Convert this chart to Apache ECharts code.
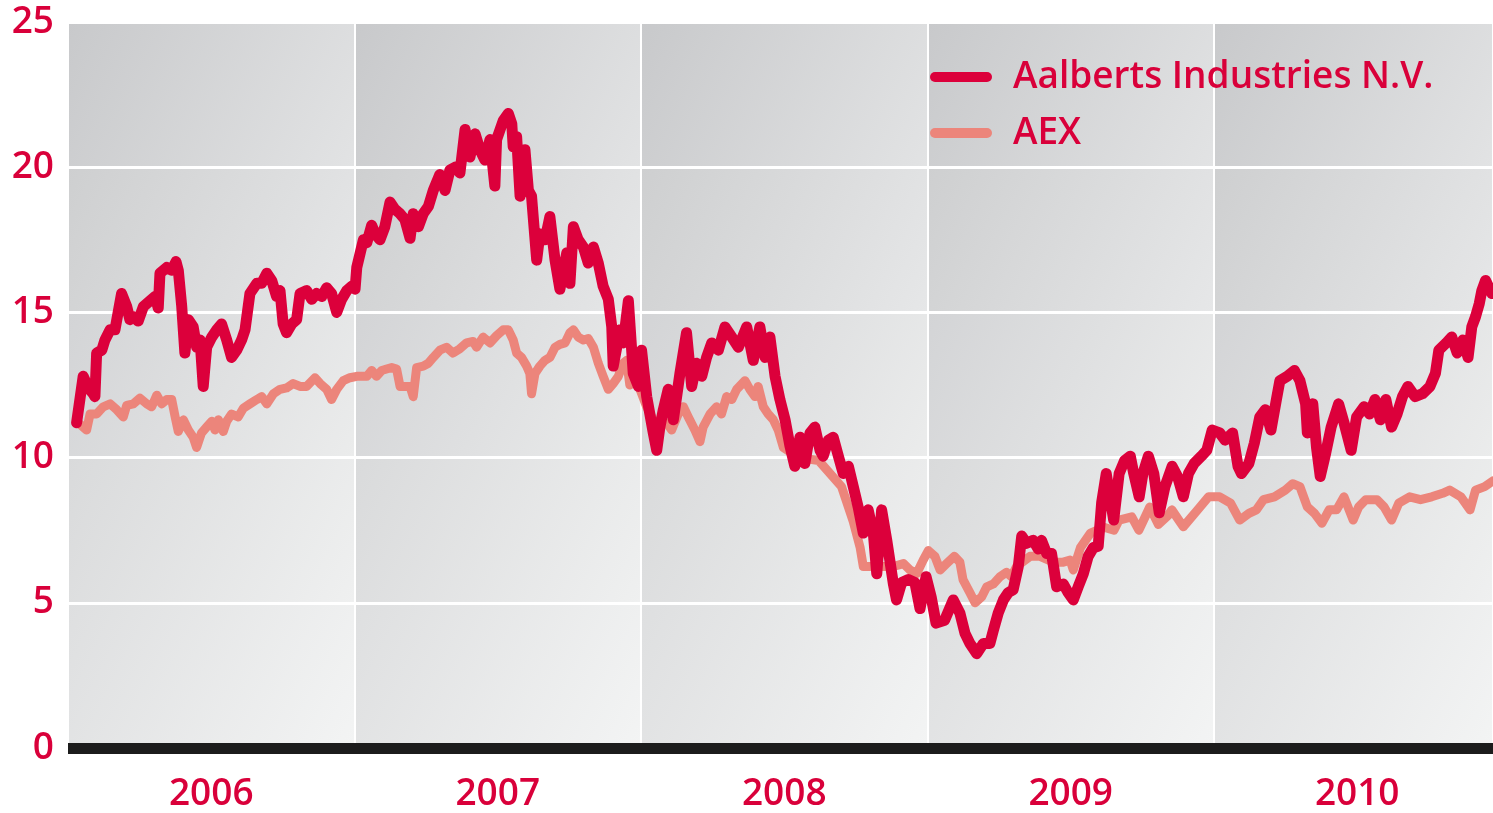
<!DOCTYPE html>
<html>
<head>
<meta charset="utf-8">
<script src="https://cdn.jsdelivr.net/npm/echarts@6/dist/echarts.min.js"></script>
<style>
  html, body { margin: 0; padding: 0; background: #fff; }
  #main { width: 1493px; height: 813px; }
</style>
</head>
<body>
<div id="main"></div>
<script>
// jaren op de x-as, waarden op de y-as
var years = [2006, 2007, 2008, 2009, 2010];
var yTicks = [0, 5, 10, 15, 20, 25];
var xEnd = 2010.974; // grafiek loopt net niet tot eind 2010 in beeld

var names = ['Aalberts Industries N.V.', 'AEX'];

// koers Aalberts (jaar als fractie, waarde)
var aalberts = [
  [2006.030,11.2],[2006.053,12.8],[2006.071,12.4],[2006.088,12.2],[2006.094,12.1],[2006.100,13.6],[2006.118,13.7],
  [2006.129,14.05],[2006.147,14.4],[2006.164,14.4],[2006.187,15.65],[2006.205,15.2],[2006.216,14.75],[2006.228,14.85],
  [2006.245,14.7],[2006.263,15.2],[2006.286,15.4],[2006.304,15.55],[2006.315,15.15],[2006.321,16.35],[2006.345,16.55],
  [2006.362,16.45],[2006.377,16.75],[2006.385,16.45],[2006.397,15.2],[2006.408,13.6],[2006.420,14.75],[2006.437,14.5],
  [2006.449,13.8],[2006.461,14.05],[2006.472,12.45],[2006.484,13.8],[2006.502,14.15],[2006.519,14.4],[2006.536,14.6],
  [2006.554,14.05],[2006.571,13.45],[2006.589,13.7],[2006.606,14.05],[2006.618,14.4],[2006.635,15.65],[2006.659,16.0],
  [2006.676,16.0],[2006.694,16.35],[2006.711,16.1],[2006.728,15.55],[2006.740,15.75],[2006.751,14.6],[2006.763,14.3],
  [2006.781,14.6],[2006.798,14.75],[2006.810,15.65],[2006.833,15.75],[2006.851,15.45],[2006.868,15.65],[2006.886,15.55],
  [2006.903,15.85],[2006.920,15.65],[2006.938,15.0],[2006.955,15.45],[2006.973,15.75],[2006.990,15.9],[2007.002,15.8],
  [2007.008,16.55],[2007.031,17.5],[2007.043,17.4],[2007.060,18.0],[2007.072,17.7],[2007.089,17.5],[2007.106,17.95],
  [2007.124,18.8],[2007.141,18.55],[2007.159,18.4],[2007.176,18.2],[2007.194,17.55],[2007.205,18.4],[2007.223,17.95],
  [2007.240,18.4],[2007.258,18.65],[2007.275,19.2],[2007.298,19.75],[2007.316,19.2],[2007.333,19.9],[2007.351,20.0],
  [2007.368,19.8],[2007.386,21.3],[2007.403,20.35],[2007.421,21.15],[2007.438,20.6],[2007.455,20.25],[2007.473,20.95],
  [2007.490,19.35],[2007.496,20.95],[2007.519,21.6],[2007.537,21.85],[2007.549,21.5],[2007.554,20.7],[2007.566,21.05],
  [2007.578,19.0],[2007.595,20.6],[2007.607,19.2],[2007.618,19.0],[2007.636,16.8],[2007.647,17.7],[2007.665,17.5],
  [2007.682,18.3],[2007.700,16.8],[2007.717,15.8],[2007.741,17.05],[2007.752,16.0],[2007.764,17.95],[2007.781,17.5],
  [2007.799,17.25],[2007.816,16.7],[2007.834,17.25],[2007.851,16.7],[2007.868,15.9],[2007.886,15.45],[2007.898,14.5],
  [2007.903,13.15],[2007.927,14.4],[2007.938,13.95],[2007.956,15.4],[2007.973,12.9],[2007.991,12.45],[2008.002,13.7],
  [2008.020,12.1],[2008.043,10.85],[2008.055,10.25],[2008.066,11.05],[2008.078,11.65],[2008.095,12.35],[2008.113,11.3],
  [2008.136,12.9],[2008.159,14.3],[2008.177,12.45],[2008.194,13.25],[2008.212,12.8],[2008.229,13.45],[2008.247,13.95],
  [2008.270,13.7],[2008.293,14.5],[2008.317,14.15],[2008.340,13.8],[2008.369,14.5],[2008.392,13.35],[2008.415,14.5],
  [2008.433,13.45],[2008.450,14.15],[2008.468,12.8],[2008.485,12.0],[2008.503,11.3],[2008.520,10.4],[2008.537,9.7],
  [2008.555,10.7],[2008.572,9.8],[2008.590,10.85],[2008.607,11.05],[2008.625,10.25],[2008.636,10.05],[2008.654,10.6],
  [2008.671,10.7],[2008.689,10.05],[2008.706,9.45],[2008.724,9.7],[2008.741,9.0],[2008.758,8.3],[2008.776,7.4],
  [2008.793,8.2],[2008.811,7.4],[2008.823,6.0],[2008.840,8.2],[2008.858,7.15],[2008.881,5.65],[2008.892,5.1],
  [2008.910,5.7],[2008.933,5.8],[2008.956,5.7],[2008.974,4.8],[2008.995,5.9],[2009.013,5.2],[2009.030,4.3],
  [2009.060,4.4],[2009.090,5.1],[2009.113,4.65],[2009.131,3.95],[2009.148,3.6],[2009.172,3.25],[2009.195,3.6],
  [2009.218,3.6],[2009.230,4.05],[2009.247,4.65],[2009.265,5.1],[2009.282,5.35],[2009.299,5.45],[2009.317,6.25],
  [2009.329,7.3],[2009.346,7.05],[2009.369,7.15],[2009.387,6.85],[2009.398,7.15],[2009.416,6.7],[2009.433,6.7],
  [2009.451,5.55],[2009.474,5.65],[2009.491,5.35],[2009.509,5.1],[2009.526,5.55],[2009.544,6.0],[2009.561,6.6],
  [2009.579,6.9],[2009.596,6.95],[2009.608,8.45],[2009.624,9.45],[2009.650,7.85],[2009.669,9.45],[2009.688,9.9],
  [2009.708,10.05],[2009.720,9.45],[2009.739,8.65],[2009.752,9.45],[2009.771,10.05],[2009.790,9.45],[2009.809,8.1],
  [2009.829,9.0],[2009.854,9.7],[2009.873,9.35],[2009.893,8.65],[2009.911,9.45],[2009.931,9.8],[2009.956,10.05],
  [2009.975,10.25],[2009.994,10.95],[2010.020,10.85],[2010.039,10.6],[2010.065,10.85],[2010.084,9.7],[2010.096,9.45],
  [2010.122,9.8],[2010.141,10.5],[2010.160,11.4],[2010.179,11.65],[2010.199,10.95],[2010.218,12.0],[2010.230,12.65],
  [2010.256,12.8],[2010.281,13.0],[2010.300,12.65],[2010.320,11.85],[2010.326,10.85],[2010.345,11.85],[2010.358,10.35],
  [2010.371,9.35],[2010.390,10.15],[2010.409,11.05],[2010.435,11.85],[2010.454,11.2],[2010.479,10.25],[2010.498,11.4],
  [2010.524,11.75],[2010.543,11.5],[2010.562,12.0],[2010.581,11.3],[2010.600,12.0],[2010.620,11.05],[2010.639,11.5],
  [2010.658,12.1],[2010.677,12.45],[2010.702,12.1],[2010.728,12.2],[2010.754,12.45],[2010.773,12.9],[2010.785,13.7],
  [2010.811,13.95],[2010.830,14.15],[2010.849,13.6],[2010.869,14.05],[2010.887,13.45],[2010.900,14.5],[2010.913,14.85],
  [2010.926,15.3],[2010.935,15.75],[2010.948,16.1],[2010.970,15.65]
];

// AEX (zelfde schaal)
var aex = [
  [2006.030,11.25],[2006.065,10.95],[2006.077,11.5],[2006.100,11.5],[2006.123,11.75],[2006.147,11.85],[2006.170,11.65],
  [2006.193,11.4],[2006.205,11.8],[2006.228,11.85],[2006.251,12.05],[2006.275,11.85],[2006.292,11.75],[2006.310,12.15],
  [2006.327,11.85],[2006.345,12.0],[2006.362,12.0],[2006.374,11.4],[2006.385,10.9],[2006.403,11.3],[2006.420,10.95],
  [2006.437,10.7],[2006.449,10.35],[2006.466,10.85],[2006.484,11.05],[2006.502,11.25],[2006.513,10.95],[2006.525,11.3],
  [2006.542,10.9],[2006.554,11.25],[2006.571,11.5],[2006.594,11.4],[2006.612,11.7],[2006.635,11.85],[2006.659,12.0],
  [2006.676,12.1],[2006.694,11.85],[2006.717,12.2],[2006.740,12.35],[2006.763,12.4],[2006.786,12.55],[2006.810,12.45],
  [2006.833,12.45],[2006.862,12.75],[2006.880,12.55],[2006.903,12.35],[2006.920,12.0],[2006.938,12.35],[2006.961,12.65],
  [2006.984,12.75],[2007.008,12.8],[2007.031,12.8],[2007.043,12.8],[2007.060,13.0],[2007.077,12.8],[2007.095,13.0],
  [2007.112,13.05],[2007.130,13.1],[2007.147,13.05],[2007.159,12.45],[2007.194,12.45],[2007.205,12.1],[2007.217,13.1],
  [2007.240,13.15],[2007.258,13.25],[2007.275,13.45],[2007.298,13.7],[2007.321,13.8],[2007.344,13.6],[2007.368,13.75],
  [2007.391,13.95],[2007.414,14.0],[2007.426,13.8],[2007.449,14.15],[2007.473,13.95],[2007.496,14.2],[2007.519,14.4],
  [2007.537,14.4],[2007.554,14.05],[2007.566,13.6],[2007.583,13.45],[2007.601,13.15],[2007.612,12.9],[2007.618,12.2],
  [2007.630,12.9],[2007.647,13.15],[2007.665,13.35],[2007.682,13.45],[2007.700,13.8],[2007.717,13.9],[2007.735,13.95],
  [2007.752,14.3],[2007.764,14.4],[2007.781,14.15],[2007.799,14.05],[2007.816,14.1],[2007.834,13.8],[2007.851,13.25],
  [2007.868,12.8],[2007.886,12.35],[2007.903,12.55],[2007.921,12.8],[2007.938,13.25],[2007.950,13.35],[2007.961,12.5],
  [2007.985,12.65],[2008.020,11.75],[2008.055,11.05],[2008.090,11.2],[2008.107,10.95],[2008.130,11.5],[2008.148,11.75],
  [2008.165,11.4],[2008.188,10.95],[2008.206,10.55],[2008.217,11.05],[2008.241,11.5],[2008.264,11.75],[2008.281,11.5],
  [2008.299,12.1],[2008.317,12.0],[2008.334,12.35],[2008.363,12.65],[2008.380,12.35],[2008.398,12.1],[2008.409,12.45],
  [2008.427,11.75],[2008.444,11.5],[2008.462,11.3],[2008.479,10.95],[2008.497,10.35],[2008.550,10.0],[2008.620,9.9],
  [2008.700,9.0],[2008.741,7.8],[2008.765,6.9],[2008.776,6.25],[2008.793,6.25],[2008.881,6.25],[2008.916,6.35],
  [2008.939,6.13],[2008.962,6.0],[2008.985,6.47],[2009.003,6.8],[2009.026,6.6],[2009.044,6.13],[2009.067,6.35],
  [2009.094,6.6],[2009.113,6.4],[2009.124,5.8],[2009.148,5.35],[2009.166,5.0],[2009.189,5.2],[2009.207,5.55],
  [2009.230,5.65],[2009.253,5.9],[2009.276,6.05],[2009.293,5.9],[2009.311,6.25],[2009.358,6.6],[2009.393,6.6],
  [2009.439,6.4],[2009.474,6.4],[2009.498,6.47],[2009.509,6.13],[2009.534,6.9],[2009.569,7.4],[2009.616,7.6],
  [2009.651,7.5],[2009.669,7.85],[2009.713,7.96],[2009.738,7.5],[2009.776,8.3],[2009.806,7.7],[2009.839,8.0],
  [2009.853,8.2],[2009.893,7.62],[2009.943,8.2],[2009.981,8.65],[2010.020,8.65],[2010.058,8.43],[2010.090,7.85],
  [2010.122,8.08],[2010.148,8.2],[2010.173,8.55],[2010.211,8.65],[2010.249,8.88],[2010.275,9.1],[2010.300,9.0],
  [2010.326,8.3],[2010.351,8.08],[2010.377,7.74],[2010.402,8.2],[2010.428,8.2],[2010.454,8.65],[2010.486,7.85],
  [2010.505,8.3],[2010.530,8.55],[2010.569,8.55],[2010.594,8.3],[2010.620,7.85],[2010.645,8.43],[2010.683,8.65],
  [2010.721,8.55],[2010.760,8.65],[2010.798,8.77],[2010.823,8.88],[2010.862,8.65],[2010.894,8.2],[2010.913,8.88],
  [2010.945,9.0],[2010.974,9.2]
];

var RED = '#dc003b';
var SALMON = '#ec857b';
var TEXT_RED = '#d9003a';
var FONT = '"Open Sans", "Noto Sans", sans-serif';

// grijze vlakken per jaar x band, verloop van linksboven naar rechtsonder
var cells = [];
years.forEach(function (yr) {
  for (var j = 0; j < yTicks.length - 1; j++) {
    cells.push([yr, yTicks[j], j]);
  }
});

function mix(a, b, t) {
  var c = a.map(function (v, i) { return Math.round(v + (b[i] - v) * t); });
  return 'rgb(' + c.join(',') + ')';
}

var myChart = echarts.init(document.getElementById('main'));

myChart.setOption({
  animation: false,
  grid: {
    left: 68,
    right: 0,
    top: 22,
    bottom: 65,
    containLabel: false,
    outerBoundsMode: 'none'
  },
  legend: {
    data: names,
    orient: 'vertical',
    left: 925,
    top: 51,
    itemWidth: 62,
    itemHeight: 10,
    itemGap: 14,
    icon: 'path://M5 0H57A5 5 0 0 1 57 10H5A5 5 0 0 1 5 0Z',
    textStyle: {
      color: TEXT_RED,
      fontFamily: FONT,
      fontSize: 37,
      fontWeight: 600,
      lineHeight: 42,
      padding: [0, 0, 0, 16]
    }
  },
  xAxis: [
    {
      type: 'value',
      min: years[0],
      max: xEnd,
      interval: 1,
      z: 3,
      axisLine: { show: true, onZero: false, lineStyle: { color: '#1c1c1c', width: 11, cap: 'butt' } },
      axisTick: { show: false },
      axisLabel: { show: false },
      splitLine: { show: true, lineStyle: { color: '#ffffff', width: 2 } }
    },
    {
      type: 'value',
      position: 'bottom',
      min: years[0],
      max: xEnd,
      interval: 0.5,
      z: 3,
      axisLine: { show: false },
      axisTick: { show: false },
      splitLine: { show: false },
      axisLabel: {
        color: TEXT_RED,
        fontFamily: FONT,
        fontSize: 37,
        fontWeight: 600,
        margin: 28,
        formatter: function (v) {
          return Math.abs(v - Math.floor(v) - 0.5) < 1e-6 ? String(Math.floor(v)) : '';
        }
      }
    }
  ],
  yAxis: {
    type: 'value',
    min: yTicks[0],
    max: yTicks[yTicks.length - 1],
    interval: yTicks[1] - yTicks[0],
    z: 2,
    axisLine: { show: false },
    axisTick: { show: false },
    axisLabel: {
      color: TEXT_RED,
      fontFamily: FONT,
      fontSize: 37,
      fontWeight: 600,
      margin: 14
    },
    splitLine: { show: true, lineStyle: { color: '#ffffff', width: 3 } }
  },
  series: [
    {
      type: 'custom',
      silent: true,
      z: 1,
      encode: { x: 0, y: 1 },
      data: cells,
      renderItem: function (params, api) {
        var x0 = api.value(0), y0 = api.value(1), row = api.value(2);
        var step = yTicks[1] - yTicks[0];
        var p0 = api.coord([x0, y0 + step]);
        var p1 = api.coord([Math.min(x0 + 1, xEnd), y0]);
        var t = row / (yTicks.length - 2);
        return {
          type: 'rect',
          shape: { x: p0[0], y: p0[1], width: p1[0] - p0[0], height: p1[1] - p0[1] },
          style: {
            fill: new echarts.graphic.LinearGradient(0, 0, 1, 1, [
              { offset: 0, color: mix([222, 223, 224], [200, 201, 203], t) },
              { offset: 1, color: mix([243, 244, 244], [226, 227, 228], t) }
            ])
          }
        };
      }
    },
    {
      name: names[1],
      type: 'line',
      z: 5,
      data: aex,
      showSymbol: false,
      symbol: 'none',
      color: SALMON,
      itemStyle: { color: SALMON },
      lineStyle: { color: SALMON, width: 9, cap: 'round', join: 'round' }
    },
    {
      name: names[0],
      type: 'line',
      z: 6,
      data: aalberts,
      showSymbol: false,
      symbol: 'none',
      color: RED,
      itemStyle: { color: RED },
      lineStyle: { color: RED, width: 11, cap: 'round', join: 'round' }
    }
  ]
});
</script>
</body>
</html>
